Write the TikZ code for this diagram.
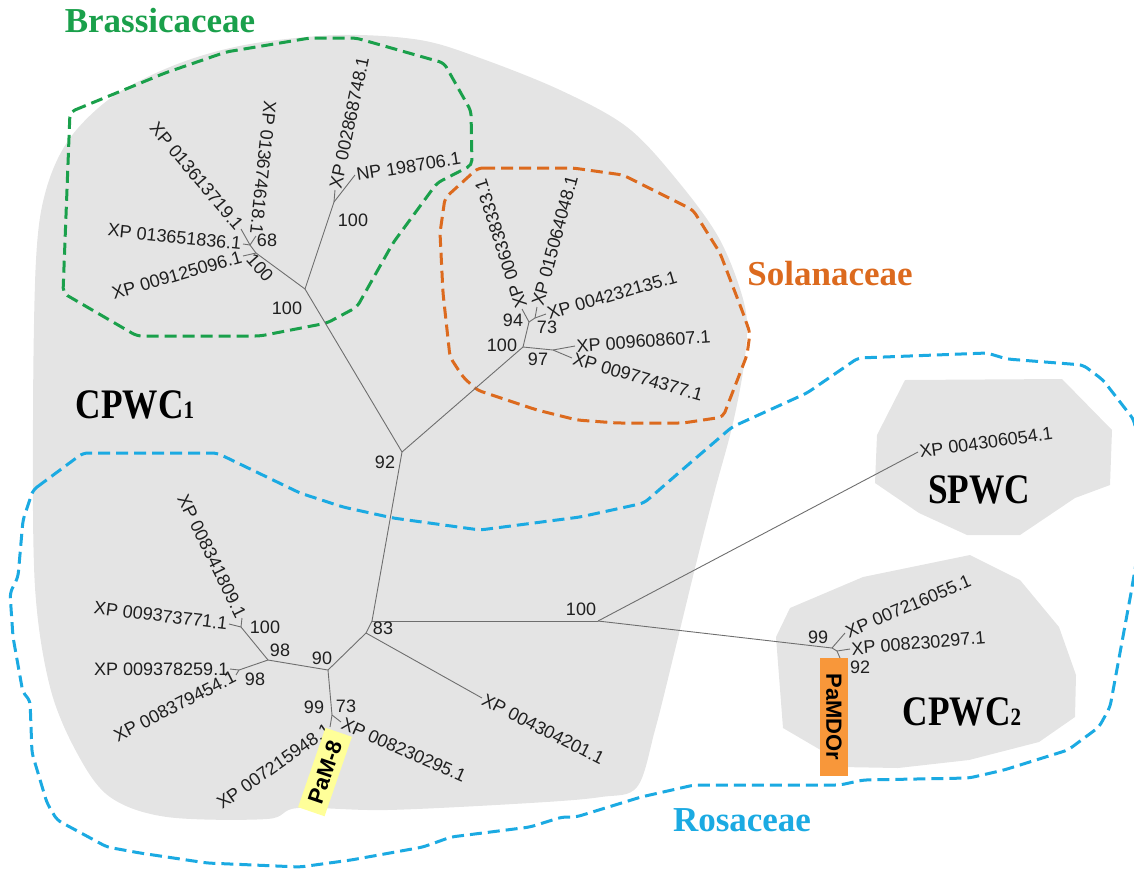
\documentclass[tikz,border=0pt]{standalone}
\usepackage{fontspec}
\setmainfont{Liberation Serif}
\setsansfont{Liberation Sans}
\definecolor{blobgrey}{RGB}{228,228,228}
\definecolor{famgreen}{RGB}{26,160,75}
\definecolor{famorange}{RGB}{220,106,30}
\definecolor{famblue}{RGB}{27,170,226}
\definecolor{boxyellow}{RGB}{255,255,153}
\definecolor{boxorange}{RGB}{248,151,58}
\definecolor{branchgrey}{RGB}{110,110,110}
\newcommand{\leaffont}{\sffamily\fontsize{18}{18}\selectfont}
\newcommand{\famfont}{\rmfamily\bfseries\fontsize{35}{35}\selectfont}
\newcommand{\clfont}{\rmfamily\bfseries\fontsize{42}{42}\selectfont}
\newcommand{\clsub}[1]{{\fontsize{25}{25}\selectfont #1}}
\newcommand{\cladename}[1]{\scalebox{0.84}[1]{#1}}
\begin{document}
\begin{tikzpicture}[x=1pt,y=-1pt,
  blob/.style={fill=blobgrey},
  famline/.style={line width=3pt,dash pattern=on 12pt off 6pt,rounded corners=5pt},
  branch/.style={draw=branchgrey,line width=0.9pt},
  leaf/.style={font=\leaffont,inner sep=1.5pt,text=black!88},
  boot/.style={font=\leaffont,inner sep=0pt,text=black!88},
  famlabel/.style={font=\famfont,inner sep=0pt},
  cladelabel/.style={font=\clfont,inner sep=0pt},
  tagbox/.style={font=\sffamily\bfseries\fontsize{22}{22}\selectfont,inner sep=0pt,text=black}]
\useasboundingbox (0,0) rectangle (1134,868);
\clip (0,0) rectangle (1134,868);

% clade backgrounds
\fill[blob] plot[smooth cycle,tension=0.55] coordinates {
  (36,260) (46,190) (70,138) (115,95) (180,63) (250,44) (340,35) (420,40)
  (480,58) (560,90) (627,127) (677,180) (720,240) (745,307) (745,357)
  (733,423) (715,490) (697,560) (675,650) (655,730) (637,787) (601,797)
  (530,803) (387,810) (298,808) (267,819) (167,817) (110,797) (77,753)
  (50,687) (35,587) (33,420)};
\fill[blob] (905,380) -- (1062,379) -- (1112,430) -- (1110,485) -- (1075,498)
  -- (1020,535) -- (967,535) -- (919,513) -- (875,483) -- (877,435) -- cycle;
\fill[blob] (790,608) -- (863,577) -- (970,555) -- (1020,580) -- (1059,627)
  -- (1076,675) -- (1075,717) -- (1039,742) -- (969,760) -- (898,768)
  -- (841,767) -- (824,752) -- (783,728) -- (776,637) -- cycle;

% family outlines
\draw[famline,famgreen] (70,112) -- (165,73) -- (226,52) -- (310,38) -- (356,38)
  -- (444,63) -- (471,111) -- (472,165) -- (437,183) -- (393,243) -- (357,307)
  -- (327,323) -- (260,336) -- (137,336) -- (63,293) -- cycle;
\draw[famline,famorange] (478,168) -- (573,168) -- (623,175) -- (693,210)
  -- (720,253) -- (743,313) -- (750,333) -- (747,355) -- (723,417) -- (683,423)
  -- (617,423) -- (577,420) -- (537,410) -- (477,390) -- (463,377) -- (450,357)
  -- (443,293) -- (440,233) -- (445,198) -- cycle;
\draw[famline,famblue] (33,490) -- (83,453) -- (217,453) -- (300,493) -- (343,507)
  -- (393,518) -- (480,530) -- (580,517) -- (644,503) -- (682,470) -- (732,427)
  -- (807,393) -- (858,358) -- (987,353) -- (1007,359) -- (1083,365) -- (1103,380)
  -- (1134,420) -- (1142,470) -- (1140,540) -- (1131,593) -- (1110,707)
  -- (1099,727) -- (1068,750) -- (1004,770) -- (969,778) -- (863,780) -- (840,785)
  -- (694,785) -- (641,797) -- (576,817) -- (562,817) -- (530,827) -- (451,837)
  -- (423,847) -- (351,860) -- (300,867) -- (207,863) -- (140,853) -- (107,847)
  -- (57,820) -- (47,803) -- (32,753) -- (30,700) -- (23,693) -- (13,637)
  -- (10,593) -- (18,577) -- (23,520) -- cycle;

% tree: inner nodes and leaf ends
\coordinate (r) at (402,452);
\coordinate (br) at (305,289);
\coordinate (bc) at (334,202);
\coordinate (bcA) at (335,190);
\coordinate (bcB) at (355,175);
\coordinate (ba) at (256,253);
\coordinate (baL) at (243,256);
\coordinate (bb) at (250,245);
\coordinate (bbA) at (243,244);
\coordinate (bbB) at (241,229);
\coordinate (bbC) at (256,236);
\coordinate (s) at (523,347);
\coordinate (s94) at (529,322);
\coordinate (s94L) at (522,309);
\coordinate (s73) at (535,318);
\coordinate (s73A) at (537,307);
\coordinate (s73B) at (546,314);
\coordinate (s97) at (553,350);
\coordinate (s97A) at (575,346);
\coordinate (s97B) at (572,358);
\coordinate (t) at (372,621);
\coordinate (n83) at (366,633);
\coordinate (lfA) at (482,698);
\coordinate (n90) at (328,670);
\coordinate (n73) at (332,715);
\coordinate (lfB) at (341,722);
\coordinate (lfC) at (330,727);
\coordinate (n98) at (268,660);
\coordinate (n100) at (241,627);
\coordinate (lfD) at (229,624);
\coordinate (lfE) at (242,618);
\coordinate (n98b) at (239,670);
\coordinate (lfF) at (230,669);
\coordinate (lfG) at (236,675);
\coordinate (m) at (598,621);
\coordinate (lfS) at (918,452);
\coordinate (c99) at (832,648);
\coordinate (lfH) at (845,633);
\coordinate (c92) at (837,651);
\coordinate (lfI) at (850,649);
\coordinate (lfJ) at (840,658);

% branches
\draw[branch] (r) -- (br);
\draw[branch] (br) -- (bc);
\draw[branch] (bc) -- (bcA);
\draw[branch] (bc) -- (bcB);
\draw[branch] (br) -- (ba);
\draw[branch] (ba) -- (baL);
\draw[branch] (ba) -- (bb);
\draw[branch] (bb) -- (bbA);
\draw[branch] (bb) -- (bbB);
\draw[branch] (bb) -- (bbC);
\draw[branch] (r) -- (s);
\draw[branch] (s) -- (s94);
\draw[branch] (s94) -- (s94L);
\draw[branch] (s94) -- (s73);
\draw[branch] (s73) -- (s73A);
\draw[branch] (s73) -- (s73B);
\draw[branch] (s) -- (s97);
\draw[branch] (s97) -- (s97A);
\draw[branch] (s97) -- (s97B);
\draw[branch] (r) -- (t);
\draw[branch] (t) -- (m);
\draw[branch] (t) -- (n83);
\draw[branch] (n83) -- (lfA);
\draw[branch] (n83) -- (n90);
\draw[branch] (n90) -- (n73);
\draw[branch] (n73) -- (lfB);
\draw[branch] (n73) -- (lfC);
\draw[branch] (n90) -- (n98);
\draw[branch] (n98) -- (n100);
\draw[branch] (n100) -- (lfD);
\draw[branch] (n100) -- (lfE);
\draw[branch] (n98) -- (n98b);
\draw[branch] (n98b) -- (lfF);
\draw[branch] (n98b) -- (lfG);
\draw[branch] (m) -- (lfS);
\draw[branch] (m) -- (c99);
\draw[branch] (c99) -- (lfH);
\draw[branch] (c99) -- (c92);
\draw[branch] (c92) -- (lfI);
\draw[branch] (c92) -- (lfJ);

% leaf names
\node[leaf,anchor=west,rotate=78] (tbcA) at (bcA) {XP 002868748.1};
\node[leaf,anchor=west,rotate=9] (tbcB) at (bcB) {NP 198706.1};
\node[leaf,anchor=east,rotate=16] (tbaL) at (baL) {XP 009125096.1};
\node[leaf,anchor=east,rotate=-6] (tbbA) at (bbA) {XP 013651836.1};
\node[leaf,anchor=east,rotate=-50] (tbbB) at (bbB) {XP 013613719.1};
\node[leaf,anchor=east,rotate=-96] (tbbC) at (bbC) {XP 013674618.1};
\node[leaf,anchor=west,rotate=108] (ts94L) at (s94L) {XP 006338333.1};
\node[leaf,anchor=west,rotate=75] (ts73A) at (s73A) {XP 015064048.1};
\node[leaf,anchor=west,rotate=16] (ts73B) at (s73B) {XP 004232135.1};
\node[leaf,anchor=west,rotate=4] (ts97A) at (s97A) {XP 009608607.1};
\node[leaf,anchor=west,rotate=-16] (ts97B) at (s97B) {XP 009774377.1};
\node[leaf,anchor=west,rotate=-27] (tlfA) at (lfA) {XP 004304201.1};
\node[leaf,anchor=west,rotate=-24] (tlfB) at (lfB) {XP 008230295.1};
\node[leaf,anchor=east,rotate=35] (tlfC) at (lfC) {XP 007215948.1};
\node[leaf,anchor=east,rotate=-7] (tlfD) at (lfD) {XP 009373771.1};
\node[leaf,anchor=east,rotate=-64] (tlfE) at (lfE) {XP 008341809.1};
\node[leaf,anchor=east] (tlfF) at (lfF) {XP 009378259.1};
\node[leaf,anchor=east,rotate=27] (tlfG) at (lfG) {XP 008379454.1};
\node[leaf,anchor=west,rotate=8] (tlfS) at (lfS) {XP 004306054.1};
\node[leaf,anchor=west,rotate=23] (tlfH) at (lfH) {XP 007216055.1};
\node[leaf,anchor=west,rotate=5] (tlfI) at (lfI) {XP 008230297.1};

% bootstrap values
\node[boot] (b1) at (287,308) {100};
\node[boot] (b2) at (353,220) {100};
\node[boot,rotate=-48] (b3) at (260,268) {100};
\node[boot] (b4) at (267,240) {68};
\node[boot] (b5) at (502,345) {100};
\node[boot] (b6) at (513,320) {94};
\node[boot] (b7) at (547,327) {73};
\node[boot] (b8) at (538,359) {97};
\node[boot] (b9) at (385,462) {92};
\node[boot] (b10) at (581,609) {100};
\node[boot] (b11) at (383,628) {83};
\node[boot] (b12) at (322,658) {90};
\node[boot] (b13) at (346,706) {73};
\node[boot] (b14) at (314,707) {99};
\node[boot] (b15) at (265,627) {100};
\node[boot] (b16) at (280,650) {98};
\node[boot] (b17) at (255,679) {98};
\node[boot] (b18) at (818,637) {99};
\node[boot] (b19) at (860,667) {92};

% highlighted sequences
\node[tagbox,fill=boxyellow,minimum width=84pt,minimum height=28pt,rotate=71] (pam8) at (325,772) {PaM-8};
\node[tagbox,fill=boxorange,minimum width=118pt,minimum height=28pt,rotate=-90] (pamdor) at (834,717) {PaMDOr};

% family and clade names
\node[famlabel,text=famgreen] (brassica) at (160,21) {Brassicaceae};
\node[famlabel,text=famorange] (solanum) at (830,274) {Solanaceae};
\node[famlabel,text=famblue] (rosa) at (742,820) {Rosaceae};
\node[cladelabel] (cpwc1) at (135,405) {\cladename{CPWC\clsub{1}}};
\node[cladelabel] (spwc) at (979,490) {\cladename{SPWC}};
\node[cladelabel] (cpwc2) at (962,712) {\cladename{CPWC\clsub{2}}};
\end{tikzpicture}
\end{document}
